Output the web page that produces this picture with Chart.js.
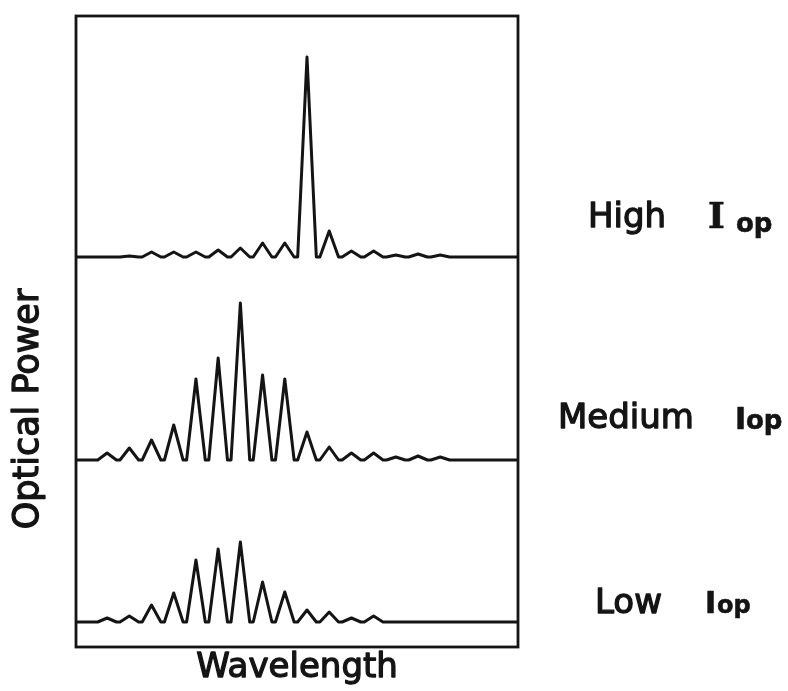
<!DOCTYPE html>
<html>
<head>
<meta charset="utf-8">
<script src="https://cdn.jsdelivr.net/npm/chart.js@4.4.1/dist/chart.umd.min.js"></script>
<style>
  html, body { margin: 0; padding: 0; background: #ffffff; }
  #wrap { width: 788px; height: 691px; }
</style>
</head>
<body>
<div id="wrap"><canvas id="c" width="788" height="691"></canvas></div>
<script>
// Longitudinal mode positions (arbitrary wavelength units)
const modeWavelength = [0, 1, 2, 3, 4, 5, 6, 7, 8, 9, 10, 11, 12, 13, 14, 15];
// Peak optical power of each mode (arbitrary units)
const powerHigh   = [0, 1, 5, 5, 5, 7, 9, 14, 14, 200, 26, 6, 6, 2, 3, 2];
const powerMedium = [7, 12, 20, 35, 81, 102, 157, 85, 81, 28, 13, 7, 7, 3, 4, 3];
const powerLow    = [4, 6, 17, 29, 62, 73, 80, 40, 30, 12, 10, 4, 6, 0, 0, 0];
const seriesLabels = ['High', 'Medium', 'Low'];
const axisTitleX = 'Wavelength';
const axisTitleY = 'Optical Power';

const X_MIN = -1.4, X_MAX = 18.5, HALF = 0.42;

function spectrum(heights) {
  const pts = [{ x: X_MIN, y: 0 }];
  modeWavelength.forEach((w, i) => {
    pts.push({ x: w - HALF, y: 0 });
    pts.push({ x: w, y: heights[i] });
    pts.push({ x: w + HALF, y: 0 });
  });
  pts.push({ x: X_MAX, y: 0 });
  return pts;
}

const INK = '#141414';
const FONT = '"DejaVu Sans"';
const lineStyle = {
  borderColor: INK, borderWidth: 3, pointRadius: 0, tension: 0,
  borderJoinStyle: 'round', borderCapStyle: 'round', fill: false
};

const hiddenY = (min, max, weight, stackWeight) => ({
  type: 'linear', display: false, min, max, weight,
  stack: 'spectra', stackWeight, offset: false
});

const framePlugin = {
  id: 'frame',
  afterDatasetsDraw(chart) {
    const { ctx, chartArea: a } = chart;
    ctx.save();
    ctx.strokeStyle = INK;
    ctx.lineWidth = 2.8;
    ctx.strokeRect(a.left, a.top, a.right - a.left, a.bottom - a.top);
    ctx.restore();
  }
};

function heavyText(ctx, font, text, x, y, w) {
  ctx.font = font;
  ctx.lineWidth = w;
  ctx.fillText(text, x, y);
  ctx.strokeText(text, x, y);
}

const labelPlugin = {
  id: 'labels',
  afterDraw(chart) {
    const ctx = chart.ctx;
    const a = chart.chartArea;
    ctx.save();
    ctx.fillStyle = INK;
    ctx.strokeStyle = INK;
    ctx.lineJoin = 'round';
    ctx.textBaseline = 'alphabetic';
    ctx.textAlign = 'left';
    // High Iop
    heavyText(ctx, '34px ' + FONT, seriesLabels[0], 588, 227, 1.3);
    heavyText(ctx, 'bold 36px "DejaVu Serif"', 'I', 708, 228, 0.6);
    heavyText(ctx, 'bold 26px ' + FONT, 'op', 736, 232, 0.6);
    // Medium Iop
    heavyText(ctx, '34px ' + FONT, seriesLabels[1], 558, 428, 1.3);
    heavyText(ctx, 'bold 30px ' + FONT, 'I', 735, 429, 0.6);
    heavyText(ctx, 'bold 26px ' + FONT, 'op', 746, 429, 0.6);
    // Low Iop
    heavyText(ctx, '34px ' + FONT, seriesLabels[2], 595, 613, 1.3);
    heavyText(ctx, 'bold 30px ' + FONT, 'I', 705, 613, 0.6);
    heavyText(ctx, 'bold 24px ' + FONT, 'op', 717, 613, 0.6);
    // X axis title, centred under the plot frame
    ctx.textAlign = 'center';
    heavyText(ctx, '34px ' + FONT, axisTitleX, (a.left + a.right) / 2, 677, 1.3);
    // Y axis title
    ctx.translate(29, 409);
    ctx.rotate(-Math.PI / 2);
    ctx.textBaseline = 'middle';
    heavyText(ctx, '35px ' + FONT, axisTitleY, 0, 0, 1.3);
    ctx.restore();
  }
};

new Chart(document.getElementById('c'), {
  type: 'line',
  data: {
    datasets: [
      Object.assign({ label: seriesLabels[0], data: spectrum(powerHigh), yAxisID: 'yHigh' }, lineStyle),
      Object.assign({ label: seriesLabels[1], data: spectrum(powerMedium), yAxisID: 'yMed' }, lineStyle),
      Object.assign({ label: seriesLabels[2], data: spectrum(powerLow), yAxisID: 'yLow' }, lineStyle)
    ]
  },
  options: {
    responsive: false,
    animation: false,
    layout: { padding: { left: 76, right: 270, top: 16, bottom: 44 } },
    plugins: { legend: { display: false }, tooltip: { enabled: false } },
    scales: {
      x: {
        type: 'linear', min: X_MIN, max: X_MAX, display: false
      },
      yHigh: hiddenY(-15, 241, 3, 256),
      yMed: hiddenY(-15, 188, 2, 203),
      yLow: hiddenY(-25, 147, 1, 172)
    }
  },
  plugins: [framePlugin, labelPlugin]
});
</script>
</body>
</html>
